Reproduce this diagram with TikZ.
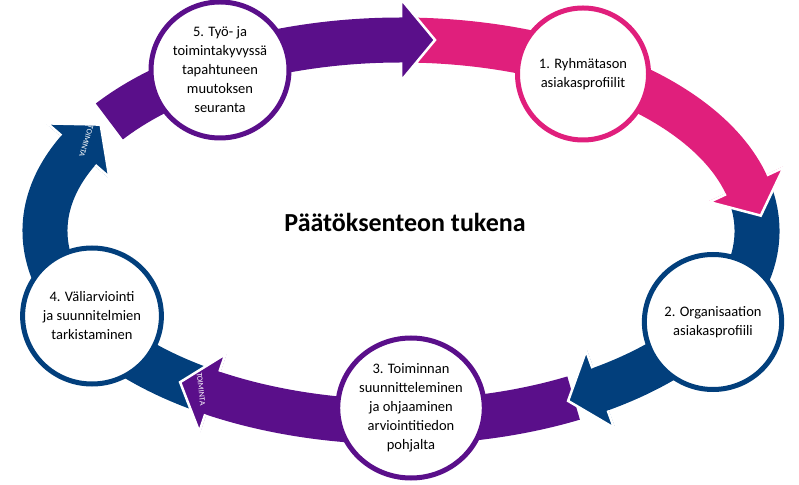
\documentclass[tikz,border=0pt]{standalone}
\usepackage{fontspec}
\setmainfont{Carlito}
\usetikzlibrary{positioning,calc,shapes.geometric}
\definecolor{ringpurple}{HTML}{5A0F8A}
\definecolor{ringpink}{HTML}{E01F7C}
\definecolor{ringblue}{HTML}{023F7C}
\tikzset{
  band/.style={line width=45pt},
  stepnode/.style={ellipse,draw,line width=5pt,fill=white,align=center,
    font=\fontsize{14.5}{19}\selectfont,inner sep=0pt},
  toimlabel/.style={white,font=\fontsize{8}{9}\selectfont}
}
\newcommand{\ringbody}[3]{\draw[band,#1] ([shift={(C)}]#2:356 and 191) arc[start angle=#2,end angle=#3,x radius=356,y radius=191];}
% head: colour, base angle, label, label rotation
\newcommand{\ringhead}[4]{%
  \pgfmathsetmacro\headang{atan2(-191*cos(#2),356*sin(#2))}
  \begin{scope}[shift={([shift={(C)}]#2:356 and 191)},rotate=\headang]
    \fill[#1] (-1,-41) -- (34,0) -- (-1,41) -- cycle;
    \draw[white,line width=2.5pt,line join=miter] (0,-22.5) -- (0,-41) -- (34,0) -- (0,41) -- (0,22.5);
    \node[toimlabel,rotate=#4] at (12,0){#3};
  \end{scope}}

\begin{document}
\begin{tikzpicture}[x=1pt,y=1pt]
\useasboundingbox (0,0) rectangle (799,484);
\coordinate (C) at (401,253);

% bands
\ringbody{ringpurple}{145}{89}
\ringbody{ringpink}{88}{13}
\ringbody{ringblue}{10}{-57}
\ringbody{ringpurple}{-61}{-123}
\ringbody{ringblue}{-125}{-206}

% arrow heads
\ringhead{ringpurple}{90}{}{0}
\ringhead{ringpink}{14}{}{0}
\ringhead{ringblue}{-56}{}{0}
\ringhead{ringpurple}{-122}{TOIMINTA}{-84}
\ringhead{ringblue}{-205}{TOIMINTA}{-107}

% steps
\node[stepnode,draw=ringpink,minimum width=131pt,minimum height=132pt] (s1) at (583,410){1. Ryhmätason\\asiakasprofiilit};
\node[stepnode,draw=ringblue,minimum width=130pt,minimum height=135pt] (s2) at (713,162){2. Organisaation\\asiakasprofiili};
\node[stepnode,draw=ringpurple,minimum width=136pt,minimum height=140pt] (s3) at (411,76){3. Toiminnan\\suunnitteleminen\\ja ohjaaminen\\arviointitiedon\\pohjalta};
\node[stepnode,draw=ringblue,minimum width=134pt,minimum height=136pt] (s4) at (92,168){4. Väliarviointi\\ja suunnitelmien\\tarkistaminen};
\node[stepnode,draw=ringpurple,minimum width=138pt,minimum height=136pt] (s5) at (220,414){5. Työ- ja\\toimintakyvyssä\\tapahtuneen\\muutoksen\\seuranta};

\node[font=\fontsize{26}{30}\selectfont\bfseries] (goal) at (405,262){Päätöksenteon tukena};
\end{tikzpicture}
\end{document}
